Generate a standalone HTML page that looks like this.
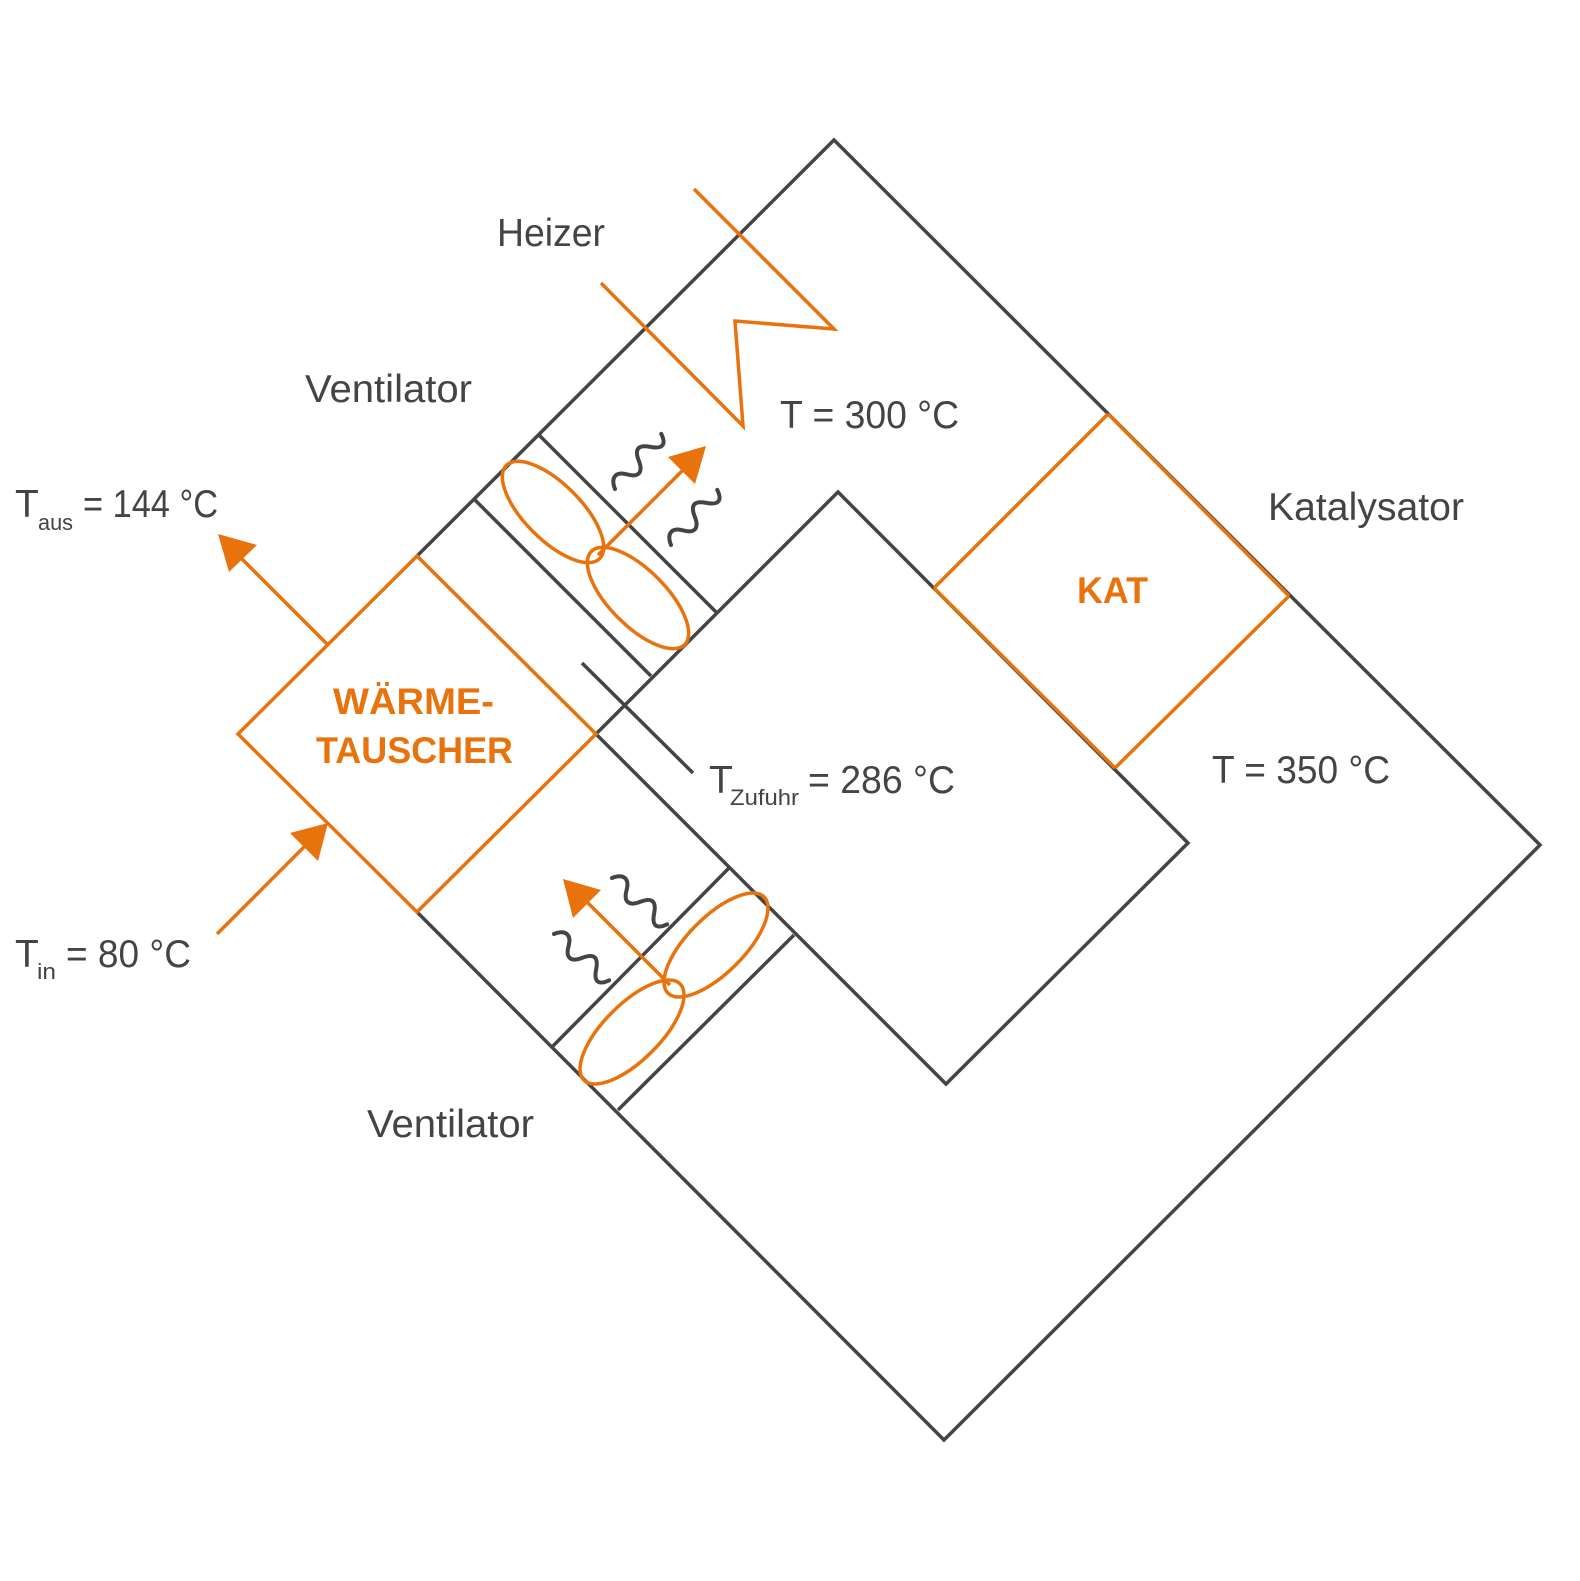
<!DOCTYPE html>
<html><head><meta charset="utf-8"><style>
html,body{margin:0;padding:0;background:#fff}
svg{display:block}
text{font-family:"Liberation Sans",sans-serif;fill:#444}
.o{fill:#E8720C;font-weight:bold}
</style></head><body>
<svg width="1580" height="1581" viewBox="0 0 1580 1581" xmlns="http://www.w3.org/2000/svg">
<defs>
<path id="w" d="M0 0 C6 -11 14 -11 19 0 S31 11 37 0 S49 -11 55 0 S67 11 72 0" fill="none" stroke="#444" stroke-width="4" stroke-linecap="round"/>
</defs>
<g fill="none" stroke="#444" stroke-width="3.5">
<polyline points="417,556 834,140 1540,845 944,1440 417,912"/>
<polyline points="596,734 838,492 1188,843 946,1084 596,734"/>
<line x1="539" y1="435" x2="716" y2="612"/>
<line x1="474" y1="499" x2="651" y2="676"/>
<line x1="729" y1="868" x2="553" y2="1046"/>
<line x1="794" y1="935" x2="618" y2="1110"/>
<line x1="582" y1="663" x2="693" y2="773"/>
</g>
<g fill="none" stroke="#E8720C" stroke-width="3.5">
<polygon points="238,734 417,556 596,734 417,912"/>
<line x1="934" y1="588" x2="1108" y2="414"/>
<line x1="1115" y1="768" x2="1289" y2="596"/>
<line x1="1108" y1="414" x2="1289" y2="596"/>
<line x1="934" y1="588" x2="1115" y2="768"/>
<polyline points="601,283 743,426 735,321 834,329 694,189"/>
<line x1="327" y1="644" x2="235" y2="552"/>
<line x1="217" y1="934" x2="312" y2="839"/>
<line x1="598" y1="555" x2="690" y2="463"/>
<line x1="670" y1="985" x2="578" y2="893"/>
<ellipse cx="553" cy="512" rx="66" ry="28" transform="rotate(45 553 512)"/>
<ellipse cx="638" cy="598" rx="66" ry="28" transform="rotate(45 638 598)"/>
<ellipse cx="716" cy="945" rx="68" ry="28" transform="rotate(-45 716 945)"/>
<ellipse cx="632" cy="1032" rx="68" ry="28" transform="rotate(-45 632 1032)"/>
</g>
<g fill="#E8720C">
<polygon points="218,534 257,545 229,572"/>
<polygon points="328,823 318,861 290,833"/>
<polygon points="706,446 695,484 668,457"/>
<polygon points="563,879 601,890 573,918"/>
</g>
<use href="#w" transform="translate(615,489) rotate(-50)"/>
<use href="#w" transform="translate(671,545) rotate(-50)"/>
<use href="#w" transform="translate(612,878) rotate(40)"/>
<use href="#w" transform="translate(554,934) rotate(40)"/>
<g font-size="39">
<text x="497" y="246" textLength="108" lengthAdjust="spacingAndGlyphs">Heizer</text>
<text x="305" y="402" textLength="167" lengthAdjust="spacingAndGlyphs">Ventilator</text>
<text x="780" y="428" textLength="179" lengthAdjust="spacingAndGlyphs">T = 300 °C</text>
<text x="1268" y="520" textLength="196" lengthAdjust="spacingAndGlyphs">Katalysator</text>
<text x="1212" y="783" textLength="178" lengthAdjust="spacingAndGlyphs">T = 350 °C</text>
<text x="367" y="1137" textLength="167" lengthAdjust="spacingAndGlyphs">Ventilator</text>
<text x="15" y="517">T</text>
<text x="83" y="517" textLength="135" lengthAdjust="spacingAndGlyphs">= 144 °C</text>
<text x="15" y="967">T</text>
<text x="66" y="967" textLength="125" lengthAdjust="spacingAndGlyphs">= 80 °C</text>
<text x="709" y="793">T</text>
<text x="808" y="793" textLength="147" lengthAdjust="spacingAndGlyphs">= 286 °C</text>
</g>
<g font-size="22">
<text x="38" y="530" textLength="35" lengthAdjust="spacingAndGlyphs">aus</text>
<text x="37" y="979" textLength="19" lengthAdjust="spacingAndGlyphs">in</text>
<text x="730" y="805" textLength="69" lengthAdjust="spacingAndGlyphs">Zufuhr</text>
</g>
<g font-size="37">
<text class="o" x="1077" y="603" textLength="71" lengthAdjust="spacingAndGlyphs">KAT</text>
<text class="o" x="333" y="714" textLength="161" lengthAdjust="spacingAndGlyphs">WÄRME-</text>
<text class="o" x="316" y="763" textLength="197" lengthAdjust="spacingAndGlyphs">TAUSCHER</text>
</g>
</svg>
</body></html>
